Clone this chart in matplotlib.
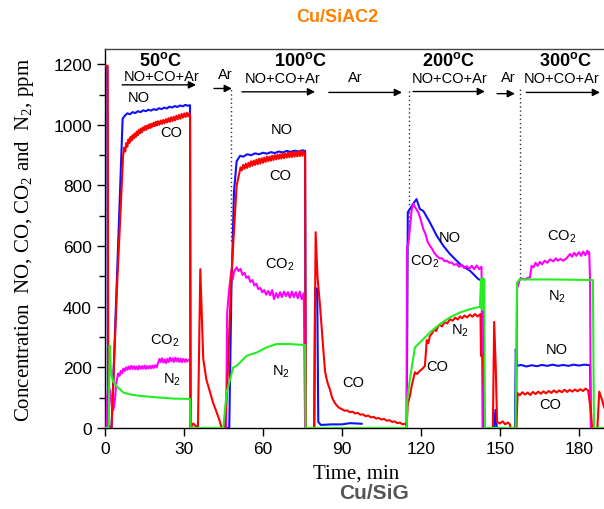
import numpy as np
import matplotlib
matplotlib.use("Agg")
import matplotlib.pyplot as plt

nan = np.nan

# ---- series: time (min) and concentration (ppm) ----
no_time = [0, 0.9, 1.1, 2.5, 6.7,
           7.5, 8.5, 9.5, 10.5, 11.5, 12.5, 13.5, 14.5, 15.5, 16.5, 17.5, 18.5,
           19.5, 20.5, 21.5, 22.5, 23.5, 24.5, 25.5, 26.5, 27.5, 28.5, 29.5,
           30.5, 31.5, 32.3, 32.5,
           47.2, 48.0, 49.0, 50.0, 51.3, 52.5, 54, 55.5, 57, 58.5, 60, 61.5,
           63, 64.5, 66, 67.5, 69, 70.5, 72, 73.5, 75, 76.0, 76.2,
           79.5, 79.8, 80.6, 81.0, 82, 86, 90, 93, 97.5, nan,
           114.6, 115.0, 115.8, 117, 118.3, 119.6, 120.9, 123.4, 126, 128.5, 131,
           134.8, 138.6, 141.8, 143.5, 143.8, 147.8, 148.3, 148.8, 155.7,
           156.0, 156.4, 158, 160, 162, 164, 166, 168, 170, 172, 174, 176, 178,
           180, 182, 184.2, 184.6, 190]
no_ppm = [1190, 1190, 10, 0, 1020,
          1030, 1038, 1035, 1042, 1039, 1045, 1042, 1048, 1045, 1050, 1047, 1052,
          1049, 1055, 1052, 1057, 1054, 1060, 1057, 1062, 1059, 1064, 1061,
          1066, 1063, 1065, 0,
          0, 450, 780, 880, 898, 895, 903, 900, 906, 903, 908, 905,
          910, 907, 912, 909, 914, 911, 915, 912, 916, 914, 0,
          0, 460, 460, 20, 10, 12, 12, 16, 14, nan,
          0, 712, 722, 739, 755, 722, 716, 678, 634, 601, 574,
          541, 519, 491, 486, 0, 0, 60, 0, 0,
          260, 205, 208, 203, 207, 204, 208, 205, 209, 205, 208, 205, 209,
          206, 209, 207, 0, 0]

co_time = [0, 1.0, 1.3, 2.5, 4.6, 6.9,
           7.3, 7.7, 8.1, 8.5, 8.9, 9.3, 9.7, 10.1, 10.5, 10.9, 11.3, 11.7, 12.1,
           12.5, 12.9, 13.3, 13.7, 14.1, 14.5, 14.9, 15.3, 15.7, 16.1, 16.5, 16.9,
           17.3, 17.7, 18.1, 18.5, 18.9, 19.3, 19.7, 20.1, 20.6, 21.1, 21.6, 22.1,
           22.6, 23.1, 23.6, 24.1, 24.6, 25.1, 25.6, 26.1, 26.6, 27.1, 27.6, 28.1,
           28.6, 29.1, 29.6, 30.1, 30.6, 31.1, 31.6, 32.0, 32.3, 32.5,
           33.5, 35.3, 36.2, 36.6, 37.3, 38.5, 39.9, 41, 42.4, 43.5, 44.3, 45.5,
           46.4, 48, 50, 51.5,
           52, 52.5, 53, 53.5, 54, 54.5, 55, 55.5, 56, 56.5, 57, 57.5, 58, 58.5,
           59, 59.5, 60, 60.5, 61, 61.5, 62, 62.5, 63, 63.5, 64, 64.5, 65, 65.5,
           66, 66.5, 67, 67.5, 68, 68.5, 69, 69.5, 70, 70.5, 71, 71.5, 72, 72.5,
           73, 73.5, 74, 74.5, 75, 75.5, 76.0, 76.3,
           79.4, 80.0, 80.7, 81.7, 82.9, 83.6, 84.5, 85.5, 86.1, 86.7, 87.5, 88.3,
           89, 90, 91, 92, 93, 94, 95, 96, 97, 98, 99, 100, 101, 102, 103, 104,
           105, 106, 107, 108, 109, 110, 111, 112, 113, 113.8, 114.6,
           115.0, 115.8, 116.5, 117.7, 118.5, 119.6, 120.5, 121.5, 122.2, 122.8,
           123.4, 124.2, 125, 125.8, 126.5, 127.2, 128, 129, 130, 131, 132, 133,
           134, 134.8, 135.6, 136.5, 137.5, 138.6, 139.5, 140.5, 141.5, 142.6,
           142.8, 143.5, 144.3,
           147.3, 147.8, 148.4, 148.9, 150, 151, 152, 153, 153.8, 154, 156.2, 156.7,
           157.5, 158.5, 159.5, 160.5, 161.5, 162.5, 163.5, 164.5, 165.5, 166.5,
           167.5, 168.5, 169.5, 170.5, 171.5, 172.5, 173.5, 174.5, 175.5, 176.5,
           177.5, 178.5, 179.5, 180.5, 181.5, 182.5, 183.5, 184.0, 184.6, 185,
           187, 187.7, 188.5, 189.5, 190]
co_ppm = [1195, 1195, 0, 0, 470, 900,
          925, 912, 940, 928, 952, 940, 960, 948, 966, 955, 972, 960, 978,
          966, 984, 972, 988, 976, 992, 982, 996, 984, 998, 988, 1002,
          990, 1004, 994, 1007, 996, 1010, 998, 1012, 1000, 1014, 1003, 1016,
          1005, 1019, 1008, 1022, 1010, 1025, 1012, 1027, 1015, 1030, 1018, 1033,
          1020, 1036, 1024, 1038, 1026, 1040, 1028, 1038, 1032, 0,
          15, 0, 524, 420, 230, 160, 118, 85, 52, 25, 0, 0,
          130, 500, 800, 860,
          850, 868, 855, 872, 858, 875, 862, 880, 865, 882, 868, 885, 870, 888,
          872, 890, 875, 892, 878, 895, 880, 896, 882, 898, 884, 900, 886, 902,
          888, 903, 889, 905, 890, 906, 892, 908, 893, 909, 894, 910, 895, 911,
          896, 912, 897, 913, 898, 912, 905, 0,
          0, 646, 500, 400, 260, 185, 150, 125, 105, 92, 80, 72,
          66, 62, 57, 58, 52, 54, 48, 50, 44, 45, 39, 41, 35, 37, 31, 33,
          28, 30, 24, 26, 20, 22, 16, 18, 12, 14, 10,
          80, 106, 140, 184, 178, 189, 195, 205, 290, 280,
          304, 312, 325, 320, 336, 340, 335, 350, 345, 359, 354, 364,
          358, 368, 362, 371, 365, 374, 367, 376, 368, 376,
          238, 240, 0,
          0, 350, 200, 20, 15, 22, 12, 18, 12, 0, 0, 115,
          108, 118, 110, 117, 109, 119, 112, 120, 113, 121,
          114, 122, 116, 124, 117, 124, 118, 126, 119, 126,
          120, 127, 121, 128, 122, 130, 124, 90, 50, 0,
          0, 120, 100, 70, 60]

co2_time = [0, 0.6, 0.8, 1.3, 2.0, 2.6, 3.2, 3.8, 4.3, 5.0, 5.5, 6, 6.5, 7, 7.5,
            8, 8.5, 9, 9.5, 10, 10.5, 11, 11.5, 12, 12.5, 13, 13.5, 14, 14.5, 15,
            15.5, 16, 16.5, 17, 17.5, 18, 18.5, 19, 19.6, 20.2, 20.7, 21.2, 21.7,
            22.2, 22.7, 23.2, 23.7, 24.2, 24.7, 25.2, 25.7, 26.2, 26.7, 27.2,
            27.7, 28.2, 28.7, 29.2, 29.7, 30.2, 30.7, 31.2, 31.7, 32.3, 32.5,
            46.0, 46.4, 47.2, 48, 48.5, 49, 50, 50.7, 51.5, 52.2, 53, 53.7, 54.5,
            55.2, 56, 56.7, 57.5, 58.2, 59, 59.7, 60.5, 61.2, 62, 62.7, 63.5,
            64.2, 65, 65.7, 66.5, 67.2, 68, 68.7, 69.5, 70.2, 71, 71.7, 72.5,
            73.2, 74, 74.7, 75.5, 76,
            114.5, 114.7, 115.2, 116.5, 117.1, 118, 119, 119.8, 120.9, 121.7,
            122.5, 123.4, 124.3, 125, 126, 127, 128, 129, 129.8, 130.8, 131.7,
            132.6, 133.6, 134.5, 135.5, 136.4, 137.4, 138.3, 139.3, 140.2, 141.2,
            142.1, 143, 143.4,
            156.2, 156.5, 157.6, 158.5, 159.5, 160.5, 161.4, 162, 162.8, 163.5,
            164.3, 165.2, 166, 167, 168, 169, 170.3, 171.2, 172, 173, 174, 175.3,
            176.6, 177.4, 178.2, 179, 180, 180.8, 181.6, 182.4, 183.2, 183.6,
            183.9, 184.2, 184.5, 190]
co2_ppm = [0, 0, 100, 140, 120, 70, 60, 95, 150, 180, 172, 188, 180, 196, 188,
           200, 192, 203, 194, 205, 195, 204, 194, 203, 193, 205, 195, 204, 196, 206,
           195, 204, 196, 205, 197, 206, 198, 207, 200, 215, 228, 218, 230,
           216, 226, 214, 228, 218, 232, 220, 230, 218, 232, 220,
           230, 218, 229, 217, 228, 218, 227, 219, 225, 222, 0,
           0, 380, 460, 520, 490, 515, 530, 518, 525, 505, 512, 495, 500,
           482, 488, 470, 476, 458, 462, 448, 455, 440, 452, 438, 455,
           425, 445, 430, 448, 432, 450, 435, 448, 430, 450, 432, 448,
           428, 450, 425, 445, 0,
           0, 600, 607, 722, 739, 725, 711, 690, 656, 640,
           615, 601, 590, 578, 568, 560, 560, 550, 552, 545, 546,
           538, 541, 532, 538, 528, 534, 525, 535, 524, 536,
           524, 532, 0,
           0, 460, 491, 493, 490, 495, 497, 535, 530, 545,
           535, 548, 540, 552, 545, 556, 550, 560, 552, 558, 552, 560,
           574, 565, 578, 568, 580, 568, 582, 570, 585, 575,
           580, 491, 0, 0]

n2_time = [0, 1.4, 1.8, 2.3, 3, 4.4, 7, 10, 13.3, 20, 26, 32.3, 32.5,
           44.9, 46.2, 48.7, 50, 53.8, 57.6, 61.4, 65.2, 70.2, 75.3, 76, 76.2,
           114.6, 114.8, 115.8, 117.7, 119.6, 123.4, 127.2, 131, 134.8, 138.6,
           142.4, 142.8, 143.0, 143.2, 143.4, 143.6, 143.8, 144.0, 144.3,
           155.9, 156.5, 157.5, 170, 185.3, 185.7, 190]
n2_ppm = [0, 0, 272, 180, 155, 138, 117, 110, 106, 101, 97, 96, 0,
          0, 117, 200, 205, 238, 249, 266, 277, 277, 274, 274, 0,
          0, 95, 161, 266, 282, 315, 343, 365, 381, 392,
          400, 490, 395, 495, 390, 495, 400, 490, 0,
          0, 480, 490, 490, 488, 0, 0]

# ---- annotations ----
temp_labels = ["50$^\\mathregular{o}$C", "100$^\\mathregular{o}$C",
               "200$^\\mathregular{o}$C", "300$^\\mathregular{o}$C"]
temp_x = [21, 74.4, 130.6, 174.7]
feed_arrows = [(6.5, 34.6, 1132), (52, 79.8, 1109), (117, 144.3, 1110), (160, 188, 1107)]
feed_text_x = [21.6, 67.6, 131, 173.6]
feed_text_y = [1162, 1156, 1154, 1154]
ar_arrows = [(41.4, 48.2, 1120), (85, 112.8, 1107), (148.9, 155.7, 1103)]
ar_text_x = [45.6, 95, 153]
ar_text_y = [1167, 1159, 1159]
switch_lines = [(48.0, 617, 1118), (115.6, 640, 1118), (157.6, 495, 1118)]

curve_labels = [
    ("NO", 12.9, 1091), ("CO", 25, 975), ("CO$_\\mathregular{2}$", 22.8, 293),
    ("N$_\\mathregular{2}$", 25.4, 162),
    ("NO", 67.2, 986), ("CO", 66.5, 834), ("CO$_\\mathregular{2}$", 66.5, 541),
    ("N$_\\mathregular{2}$", 66.8, 188), ("CO", 94.2, 152),
    ("NO", 131, 630), ("CO$_\\mathregular{2}$", 121.5, 551),
    ("N$_\\mathregular{2}$", 134.8, 326), ("CO", 126, 204),
    ("CO$_\\mathregular{2}$", 173.6, 636), ("N$_\\mathregular{2}$", 171.7, 435),
    ("NO", 171.7, 260), ("CO", 169, 79),
]

sans = "Liberation Sans"
serif = "Liberation Serif"

fig = plt.figure(figsize=(6.04, 5.10), dpi=100)
ax = fig.add_axes([0.1738, 0.1588, 0.8327, 0.743])

lw = 1.5
ax.plot(no_time, no_ppm, color="#1010ff", lw=lw, zorder=3)
ax.plot(co_time, co_ppm, color="#ff0000", lw=lw, zorder=4)
ax.plot(co2_time, co2_ppm, color="#ff00ff", lw=lw, zorder=3.5)
ax.plot(n2_time, n2_ppm, color="#22ee22", lw=lw, zorder=4.5)

ax.set_xlim(0, 191)
ax.set_ylim(0, 1250)
ax.set_xticks(np.arange(0, 181, 30))
ax.set_yticks(np.arange(0, 1201, 200))
ax.set_yticks(np.arange(100, 1201, 200), minor=True)
ax.tick_params(axis="both", which="major", direction="out", length=6, width=1,
               labelsize=12.5)
ax.tick_params(axis="y", which="minor", direction="out", length=4, width=1)
for lab in ax.get_xticklabels() + ax.get_yticklabels():
    lab.set_fontfamily(sans)
for sp in ax.spines.values():
    sp.set_linewidth(1.0)
ax.spines["top"].set_color("#444444")

ax.set_xlabel("Time, min", fontfamily=serif, fontsize=15, labelpad=5)
ax.set_ylabel("Concentration  NO, CO, CO$_\\mathregular{2}$ and  N$_\\mathregular{2}$, ppm",
              fontfamily=serif, fontsize=15, labelpad=12)

for x0, y0, y1 in switch_lines:
    ax.plot([x0, x0], [y0, y1], ls=(0, (1, 2)), color="#333333", lw=1, zorder=2)

arrow_kw = dict(arrowstyle="-|>", color="black", lw=1, mutation_scale=11,
                shrinkA=0, shrinkB=0)
for x0, x1, y in feed_arrows + ar_arrows:
    ax.annotate("", xy=(x1, y), xytext=(x0, y), arrowprops=arrow_kw,
                annotation_clip=False)
for s, x in zip(temp_labels, temp_x):
    ax.text(x, 1214, s, ha="center", va="center", fontfamily=sans,
            fontweight="bold", fontsize=13)
for x, y in zip(feed_text_x, feed_text_y):
    ax.text(x, y, "NO+CO+Ar", ha="center", va="center", fontfamily=sans,
            fontsize=10.5)
for x, y in zip(ar_text_x, ar_text_y):
    ax.text(x, y, "Ar", ha="center", va="center", fontfamily=sans, fontsize=10.5)
for s, x, y in curve_labels:
    ax.text(x, y, s, ha="center", va="center", fontfamily=sans, fontsize=10.5,
            zorder=6)

fig.text(337 / 604, 1 - 18 / 510, "Cu/SiAC2", ha="center", va="center",
         fontfamily=sans, fontweight="bold", fontsize=13, color="#ff8000")
fig.text(374 / 604, 1 - 494 / 510, "Cu/SiG", ha="center", va="center",
         fontfamily=sans, fontweight="bold", fontsize=15, color="#555555")

fig.savefig("out.png", dpi=100)
